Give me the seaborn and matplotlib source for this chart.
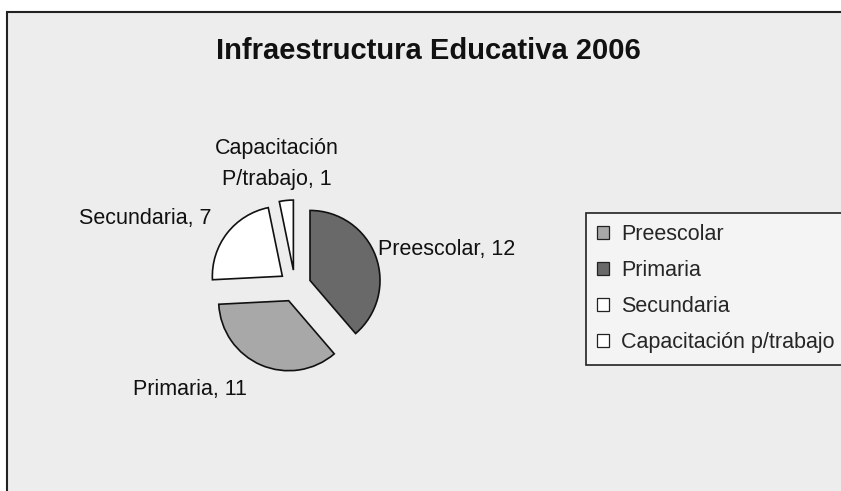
import matplotlib.pyplot as plt
import seaborn as sns
from matplotlib.patches import Patch, Rectangle

# data
labels = ['Preescolar', 'Primaria', 'Secundaria', 'Capacitación p/trabajo']
values = [12, 11, 7, 1]
slice_labels = ['Preescolar, 12', 'Primaria, 11', 'Secundaria, 7', 'Capacitación\nP/trabajo, 1']
slice_colors = ['#696969', '#a8a8a8', '#ffffff', '#ffffff']
legend_colors = ['#a8a8a8', '#696969', '#ffffff', '#ffffff']

sns.set_style("white")
plt.rcParams['font.family'] = ['Liberation Sans', 'DejaVu Sans']

W, H = 841, 491
bg = '#ededed'
fig = plt.figure(figsize=(W / 100, H / 100), dpi=100)
fig.patch.set_facecolor('white')

# panel with border
fig.patches.append(Rectangle((7 / W, -0.01), 1.0, 1 - 12 / H + 0.01,
                             transform=fig.transFigure, facecolor=bg,
                             edgecolor='#222222', linewidth=1.5, zorder=-5))

ax = fig.add_axes([0, 0, 1, 1], zorder=1)
ax.patch.set_alpha(0)

# axes units are pixels here, so explode is an offset in px
wedges, texts = ax.pie(values, labels=slice_labels, colors=slice_colors,
                       startangle=90, counterclock=False,
                       center=(295, H - 286), radius=70, explode=[16] * 4,
                       frame=True,
                       wedgeprops=dict(edgecolor='#111111', linewidth=1.2),
                       textprops=dict(fontsize=15.5, color='#111111'))
ax.set_aspect('equal')
ax.set_xlim(0, W)
ax.set_ylim(0, H)
ax.axis('off')

# label placement like the original
text_pos = [(378, H - 250, 'left', 'center'),
            (133, H - 390, 'left', 'center'),
            (212, H - 218, 'right', 'center'),
            (277, H - 164, 'center', 'center')]
for t, (x, y, ha, va) in zip(texts, text_pos):
    t.set_position((x, y))
    t.set_ha(ha)
    t.set_va(va)
    t.set_multialignment('center')
    t.set_linespacing(1.6)

fig.text(428 / W, 1 - 51 / H, 'Infraestructura Educativa 2006',
         ha='center', va='center', fontsize=21, fontweight='bold',
         color='#111111')

handles = [Patch(facecolor=c, edgecolor='#222222', linewidth=0.9) for c in legend_colors]
leg = fig.legend(handles, labels, loc='upper left',
                 bbox_to_anchor=(586 / W, 1 - 213 / H),
                 fontsize=15.5, frameon=True, fancybox=False, shadow=False,
                 handlelength=0.55, handleheight=0.55, handletextpad=0.55,
                 labelspacing=0.7, borderpad=0.52, borderaxespad=0)
leg.get_frame().set_edgecolor('#222222')
leg.get_frame().set_facecolor('#f4f4f4')
leg.get_frame().set_linewidth(1.2)
leg.get_frame().set_alpha(1)
leg.set_zorder(10)

fig.savefig('out.png', dpi=100)
